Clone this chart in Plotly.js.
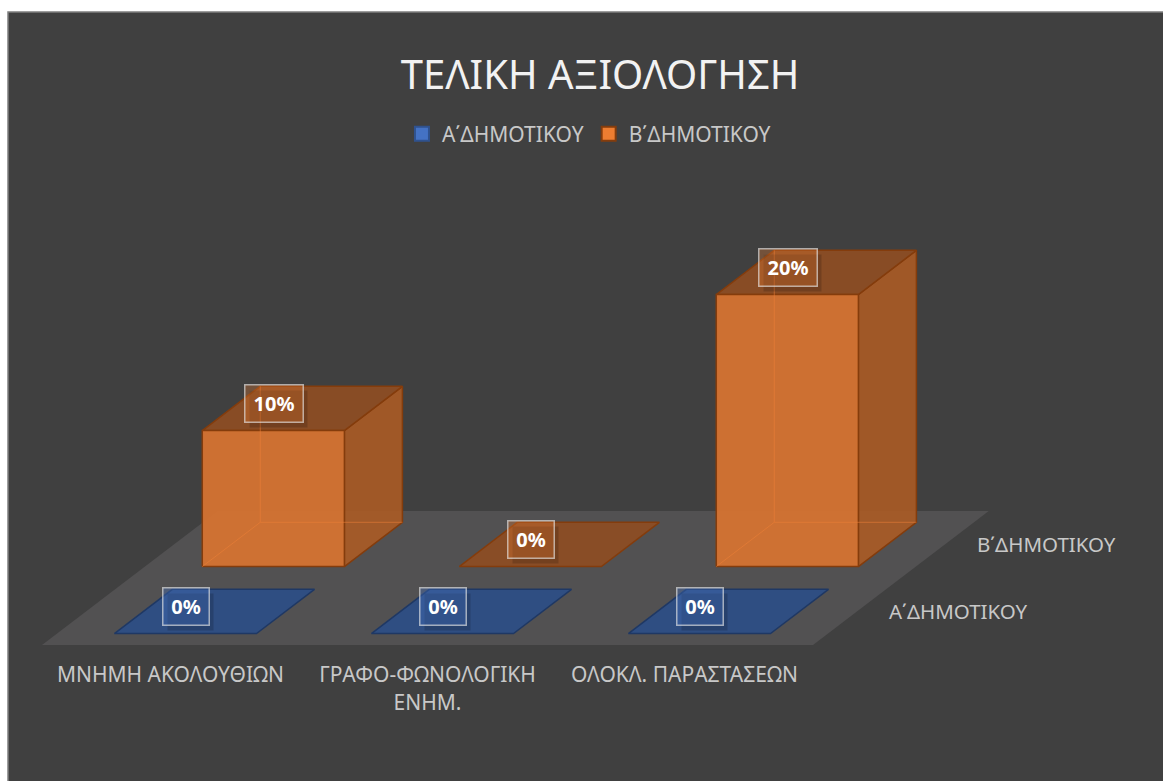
<!DOCTYPE html>
<html>
<head>
<meta charset="utf-8">
<script src="https://cdn.plot.ly/plotly-3.0.1.min.js"></script>
<style>html,body{margin:0;padding:0;background:#fff;}#chart{width:1163px;height:781px;}</style>
</head>
<body>
<div id="chart"></div>
<script>
// ---- data ----
const categories = ["ΜΝΗΜΗ ΑΚΟΛΟΥΘΙΩΝ", "ΓΡΑΦΟ-ΦΩΝΟΛΟΓΙΚΗ ΕΝΗΜ.", "ΟΛΟΚΛ. ΠΑΡΑΣΤΑΣΕΩΝ"];
const tickLabels = ["ΜΝΗΜΗ ΑΚΟΛΟΥΘΙΩΝ", "ΓΡΑΦΟ-ΦΩΝΟΛΟΓΙΚΗ<br>ΕΝΗΜ.", "ΟΛΟΚΛ. ΠΑΡΑΣΤΑΣΕΩΝ"];
const seriesNames = ["Α΄ΔΗΜΟΤΙΚΟΥ", "Β΄ΔΗΜΟΤΙΚΟΥ"];
const valuesA = [0, 0, 0];
const valuesB = [0.10, 0, 0.20];
const chartTitle = "ΤΕΛΙΚΗ ΑΞΙΟΛΟΓΗΣΗ";

// ---- style / projection ----
const FONT = "Noto Sans, Open Sans, sans-serif";
const DX = 0.342, DY = 0.0493;   // oblique shift per depth row (axis units)
const BW = 0.553, GAP = 0.17;    // bar width (category units), depth gap fraction
const styles = [
  {front:"#3A62A8", side:"#2E4F88", top:"#2F4E82", edge:"#1F3864", legend:"#4472C4", legendLine:"#2F528F", lblBg:"rgba(68,114,196,0.35)"},
  {front:"rgba(213,115,50,0.95)", side:"rgba(168,90,38,0.93)", top:"rgba(140,77,36,0.95)", edge:"#843C0C", legend:"#ED7D31", legendLine:"#843C0C", lblBg:"rgba(237,125,49,0.30)"}
];
const seriesValues = [valuesA, valuesB];

function P(u, h, d){ return [u + d*DX, h + d*DY]; }

const traces = [];
function poly(pts, fill, line, lw){
  const xs = pts.map(p=>p[0]); const ys = pts.map(p=>p[1]);
  xs.push(xs[0]); ys.push(ys[0]);
  traces.push({type:"scatter", mode:"lines", x:xs, y:ys, fill:"toself", fillcolor:fill,
    line:{color:line, width:lw}, hoverinfo:"skip", showlegend:false});
}
function seg(a, b, color){
  traces.push({type:"scatter", mode:"lines", x:[a[0],b[0]], y:[a[1],b[1]],
    line:{color:color, width:1}, hoverinfo:"skip", showlegend:false});
}

// floor
const nCat = categories.length, nSer = seriesNames.length;
poly([P(-0.5,0,0), P(nCat-0.5,0,0), P(nCat-0.5,0,nSer), P(-0.5,0,nSer)], "#525152", "#525152", 0);

// boxes, back row first
const annotations = [];
for (let r = nSer-1; r >= 0; r--) {
  const st = styles[r];
  for (let i = 0; i < nCat; i++) {
    const h = seriesValues[r][i];
    const u0 = i - BW/2, u1 = i + BW/2, d0 = r + GAP, d1 = r + 1 - GAP;
    if (h === 0) {
      poly([P(u0,0,d0), P(u1,0,d0), P(u1,0,d1), P(u0,0,d1)], st.top, st.edge, 1.5);
    } else {
      poly([P(u1,0,d0), P(u1,0,d1), P(u1,h,d1), P(u1,h,d0)], st.side, st.edge, 1.5);
      poly([P(u0,h,d0), P(u1,h,d0), P(u1,h,d1), P(u0,h,d1)], st.top, st.edge, 1.5);
      poly([P(u0,0,d0), P(u1,0,d0), P(u1,h,d0), P(u0,h,d0)], st.front, st.edge, 1.5);
      const hid = "rgba(236,128,55,0.55)";
      seg(P(u0,0,d1), P(u0,h,d1), hid);
      seg(P(u0,0,d1), P(u1,0,d1), hid);
      seg(P(u0,0,d0), P(u0,0,d1), hid);
    }
    const c = P(i, h, r + 0.5);
    const txt = Math.round(h*100) + "%";
    const w = 21 + 12*txt.length;
    annotations.push({x:c[0], y:c[1], xref:"x", yref:"y", xshift:-24, yshift:-1, text:"", showarrow:false,
      width:w, height:36, bgcolor:"rgba(0,0,0,0.16)", borderpad:0});
    annotations.push({x:c[0], y:c[1], xref:"x", yref:"y", xshift:-28, yshift:5, text:"<b>"+txt+"</b>", showarrow:false,
      width:w, height:36, bgcolor:st.lblBg, bordercolor:"rgba(230,230,230,0.65)", borderwidth:1.5, borderpad:0,
      font:{family:FONT, size:20, color:"#ffffff"}});
  }
}

// series (depth) labels on the right
for (let r = 0; r < nSer; r++) {
  const p = P(nCat-0.5, 0, r+0.5);
  annotations.push({x:p[0], y:p[1], xref:"x", yref:"y", xanchor:"left", yanchor:"middle", xshift:30,
    text:seriesNames[r], showarrow:false, font:{family:FONT, size:20.5, color:"#c8c8c8"}});
}

// legend entries
for (let r = 0; r < nSer; r++) {
  traces.push({type:"scatter", mode:"markers", x:[null], y:[null], name:seriesNames[r],
    marker:{symbol:"square", size:14, color:styles[r].legend, line:{color:styles[r].legendLine, width:2}},
    hoverinfo:"skip", showlegend:true});
}

const layout = {
  width:1163, height:781,
  margin:{l:8, r:0, t:12, b:136, pad:0},
  paper_bgcolor:"#ffffff", plot_bgcolor:"rgba(0,0,0,0)",
  title:{text:chartTitle, font:{family:FONT, size:40, color:"#f2f2f2"},
    xref:"container", x:0.516, yref:"container", y:0.904, yanchor:"middle", xanchor:"center"},
  showlegend:true,
  legend:{orientation:"h", x:0.503, xanchor:"center", y:0.807, yanchor:"middle",
    font:{family:FONT, size:21, color:"#c8c8c8"}, bgcolor:"rgba(0,0,0,0)", itemclick:false},
  xaxis:{range:[-0.6323, 3.8619], tickvals:[0,1,2], ticktext:tickLabels, ticks:"outside", ticklen:11,
    tickcolor:"rgba(0,0,0,0)", showgrid:false, zeroline:false, showline:false, fixedrange:true,
    tickfont:{family:FONT, size:21, color:"#c8c8c8"}},
  yaxis:{range:[0, 0.46544], visible:false, showgrid:false, zeroline:false, fixedrange:true},
  shapes:[{type:"rect", xref:"paper", yref:"paper", x0:0, x1:1.01, y0:-0.4, y1:1, layer:"below",
    fillcolor:"#404040", line:{color:"#7f7f7f", width:1.5}}],
  annotations:annotations
};

Plotly.newPlot("chart", traces, layout, {displayModeBar:false, staticPlot:true});
</script>
</body>
</html>
